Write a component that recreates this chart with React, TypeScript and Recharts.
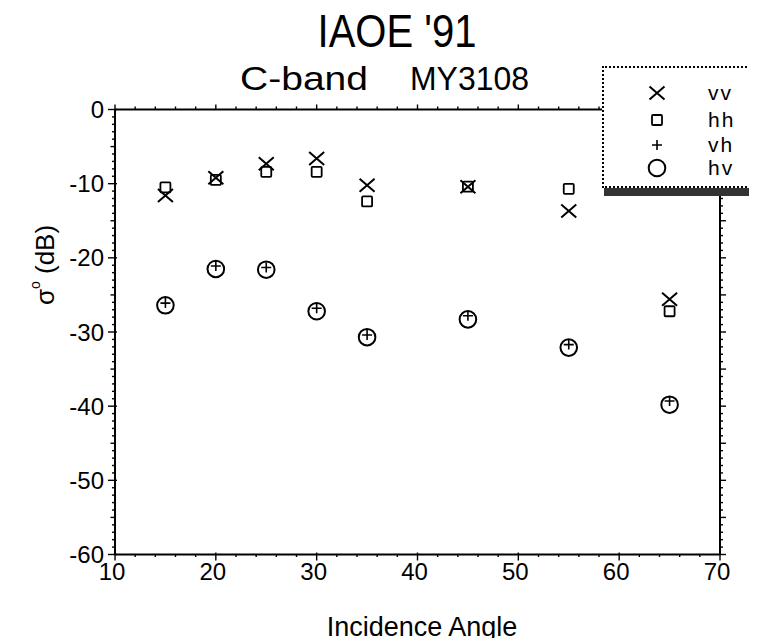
import React from 'react';
import { ScatterChart, Scatter, XAxis, YAxis, Legend } from 'recharts';

// ---------- data ----------
const angles = [15, 20, 25, 30, 35, 45, 55, 65];
const vvValues = [-11.6, -9.2, -7.3, -6.6, -10.2, -10.4, -13.7, -25.6];
const hhValues = [-10.5, -9.5, -8.4, -8.4, -12.4, -10.4, -10.7, -27.2];
const vhValues = [-26.1, -21.1, -21.3, -26.8, -30.4, -27.8, -31.7, -39.3];
const hvValues = [-26.4, -21.5, -21.6, -27.2, -30.7, -28.3, -32.1, -39.8];
const seriesNames = ['vv', 'hh', 'vh', 'hv'];
const xTickLabels = [10, 20, 30, 40, 50, 60, 70];
const yTickLabels = [-60, -50, -40, -30, -20, -10, 0];
const titleText = "IAOE '91";
const subtitleLeft = 'C-band';
const subtitleRight = 'MY3108';
const xAxisTitle = 'Incidence Angle';

// ---------- layout ----------
const FONT = '"Liberation Sans", Arial, Helvetica, sans-serif';
const W = 741;
const H = 630;
const PLOT_L = 107;
const PLOT_R = 712;
const PLOT_T = 101.5;
const PLOT_B = 546.5;
const Y_AXIS_W = 50;
const R_AXIS_W = 20;
const T_AXIS_H = 10;
const B_AXIS_H = 30;
const margin = {
  left: PLOT_L - Y_AXIS_W,
  right: W - PLOT_R - R_AXIS_W,
  top: PLOT_T - T_AXIS_H,
  bottom: H - PLOT_B - B_AXIS_H,
};

const xMin = xTickLabels[0];
const xMax = xTickLabels[xTickLabels.length - 1];
const yMin = yTickLabels[0];
const yMax = yTickLabels[yTickLabels.length - 1];

const xMinorTicks: number[] = [];
for (let v = xMin; v <= xMax; v += 2) xMinorTicks.push(v);
const yMinorTicks: number[] = [];
for (let v = yMin; v <= yMax; v += 1) yMinorTicks.push(v);

const toPoints = (vals: number[]) => angles.map((a, i) => ({ x: a, y: vals[i] }));
const vvData = toPoints(vvValues);
const hhData = toPoints(hhValues);
const vhData = toPoints(vhValues);
const hvData = toPoints(hvValues);

// ---------- marks ----------
function Mark({ kind, cx, cy }: { kind: string; cx: number; cy: number }) {
  if (cx == null || cy == null) return <g />;
  if (kind === 'vv') {
    const w = 7.5;
    const h = 6.5;
    return (
      <path
        d={`M${cx - w},${cy - h}L${cx + w},${cy + h}M${cx - w},${cy + h}L${cx + w},${cy - h}`}
        stroke="#000"
        strokeWidth={2}
        fill="none"
      />
    );
  }
  if (kind === 'hh') {
    const s = 5;
    return <rect x={cx - s} y={cy - s} width={2 * s} height={2 * s} rx={1} stroke="#000" strokeWidth={1.8} fill="none" />;
  }
  if (kind === 'vh') {
    const a = 5;
    return (
      <path d={`M${cx - a},${cy}L${cx + a},${cy}M${cx},${cy - a}L${cx},${cy + a}`} stroke="#000" strokeWidth={1.6} fill="none" />
    );
  }
  return <circle cx={cx} cy={cy} r={8.3} stroke="#000" strokeWidth={2} fill="none" />;
}

// ---------- ticks ----------
function LeftTick(props: any) {
  const { x, y, payload } = props;
  const v = payload.value;
  const major = v % 10 === 0;
  const mid = v % 5 === 0;
  const len = major ? 7 : mid ? 4.5 : 3;
  return (
    <g>
      <line x1={x - len} x2={x + (major ? 2 : 0)} y1={y} y2={y} stroke="#000" strokeWidth={1.4} />
      {major && (
        <text x={x - 11} y={y} dy="0.36em" textAnchor="end" fontSize={24} fontFamily={FONT} fill="#000">
          {v}
        </text>
      )}
    </g>
  );
}

function BottomTick(props: any) {
  const { x, y, payload } = props;
  const v = payload.value;
  const major = v % 10 === 0;
  return (
    <g>
      <line x1={x} x2={x} y1={y - (major ? 2 : 0)} y2={y + (major ? 6 : 2.5)} stroke="#000" strokeWidth={1.4} />
      {major && (
        <text x={x - 3} y={y + 8.5} dy="0.71em" textAnchor="middle" fontSize={24} fontFamily={FONT} fill="#000">
          {v}
        </text>
      )}
    </g>
  );
}

function TopTick(props: any) {
  const { x, y, payload } = props;
  const major = payload.value % 10 === 0;
  return <line x1={x} x2={x} y1={y} y2={y - (major ? 5 : 3)} stroke="#000" strokeWidth={1.4} />;
}

function RightTick(props: any) {
  const { x, y, payload } = props;
  const major = payload.value % 5 === 0;
  return <line x1={x} x2={x + (major ? 6 : 3)} y1={y} y2={y} stroke="#000" strokeWidth={1.4} />;
}

// ---------- legend ----------
function LegendBox() {
  const rowY = [25, 52, 77, 100];
  return (
    <div
      style={{
        position: 'relative',
        width: 152,
        height: 122,
        background: '#fff',
        border: '2px dotted #000',
        boxSizing: 'border-box',
        boxShadow: '2px 8px 0 #333',
        fontFamily: FONT,
      }}
    >
      {seriesNames.map((n, i) => (
        <React.Fragment key={n}>
          <svg style={{ position: 'absolute', left: 53 - 12, top: rowY[i] - 12 }} width={24} height={24}>
            <Mark kind={n} cx={12} cy={12} />
          </svg>
          <span
            style={{
              position: 'absolute',
              left: 104,
              top: rowY[i] - 11,
              fontSize: 21,
              letterSpacing: 2,
              lineHeight: '22px',
              color: '#000',
            }}
          >
            {n}
          </span>
        </React.Fragment>
      ))}
    </div>
  );
}

export default function App() {
  return (
    <div style={{ position: 'relative', width: W, height: H, background: '#fff' }}>
      <ScatterChart width={W} height={H} margin={margin}>
        <XAxis
          dataKey="x"
          type="number"
          domain={[xMin, xMax]}
          ticks={xMinorTicks}
          interval={0}
          tick={<BottomTick />}
          tickLine={false}
          tickSize={0}
          tickMargin={0}
          height={B_AXIS_H}
          axisLine={{ stroke: '#000', strokeWidth: 2 }}
        />
        <XAxis
          xAxisId="top"
          orientation="top"
          dataKey="x"
          type="number"
          domain={[xMin, xMax]}
          ticks={xMinorTicks}
          interval={0}
          tick={<TopTick />}
          tickLine={false}
          tickSize={0}
          tickMargin={0}
          height={T_AXIS_H}
          axisLine={{ stroke: '#000', strokeWidth: 2 }}
        />
        <YAxis
          dataKey="y"
          type="number"
          domain={[yMin, yMax]}
          ticks={yMinorTicks}
          interval={0}
          tick={<LeftTick />}
          tickLine={false}
          tickSize={0}
          tickMargin={0}
          width={Y_AXIS_W}
          axisLine={{ stroke: '#000', strokeWidth: 2 }}
        />
        <YAxis
          yAxisId="right"
          orientation="right"
          dataKey="y"
          type="number"
          domain={[yMin, yMax]}
          ticks={yMinorTicks}
          interval={0}
          tick={<RightTick />}
          tickLine={false}
          tickSize={0}
          tickMargin={0}
          width={R_AXIS_W}
          axisLine={{ stroke: '#000', strokeWidth: 2 }}
        />
        <Scatter
          name="frame"
          data={vvData}
          xAxisId="top"
          yAxisId="right"
          legendType="none"
          isAnimationActive={false}
          shape={() => <g />}
        />
        <Scatter name="hv" data={hvData} isAnimationActive={false} shape={(p: any) => <Mark kind="hv" cx={p.cx} cy={p.cy} />} />
        <Scatter name="vh" data={vhData} isAnimationActive={false} shape={(p: any) => <Mark kind="vh" cx={p.cx} cy={p.cy} />} />
        <Scatter name="hh" data={hhData} isAnimationActive={false} shape={(p: any) => <Mark kind="hh" cx={p.cx} cy={p.cy} />} />
        <Scatter name="vv" data={vvData} isAnimationActive={false} shape={(p: any) => <Mark kind="vv" cx={p.cx} cy={p.cy} />} />
        <Legend
          layout="vertical"
          align="center"
          verticalAlign="middle"
          content={() => <LegendBox />}
          wrapperStyle={{ position: 'absolute', left: 594, top: 58, width: 152, height: 122, margin: 0 }}
        />
      </ScatterChart>
      <svg
        width={757}
        height={644}
        style={{ position: 'absolute', left: -8, top: -8, pointerEvents: 'none' }}
        fontFamily={FONT}
      >
        <text x={397} y={47} textAnchor="middle" fontSize={46} textLength={159} lengthAdjust="spacingAndGlyphs" fill="#000">
          {titleText}
        </text>
        <text x={240} y={90} fontSize={33} textLength={128} lengthAdjust="spacingAndGlyphs" fill="#000">
          {subtitleLeft}
        </text>
        <text x={410} y={90} fontSize={33} textLength={119} lengthAdjust="spacingAndGlyphs" fill="#000">
          {subtitleRight}
        </text>
        <text x={422} y={636} textAnchor="middle" fontSize={27} fill="#000">
          {xAxisTitle}
        </text>
        <text transform="translate(54, 265) rotate(-90)" textAnchor="middle" fontSize={26} fill="#000">
          σ
          <tspan dy={-14} fontSize={14}>
            o
          </tspan>
          <tspan dy={14}> (dB)</tspan>
        </text>
      </svg>
    </div>
  );
}
